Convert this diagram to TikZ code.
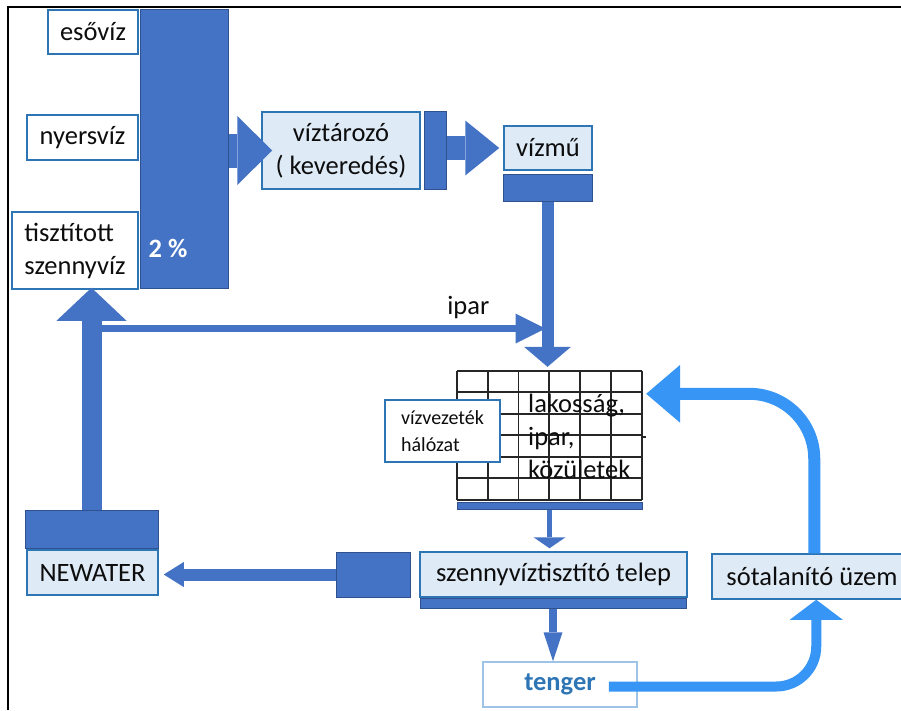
\documentclass[tikz,border=0pt]{standalone}
\usepackage{fontspec}
\setmainfont{Carlito}
\usetikzlibrary{arrows.meta,calc}
\definecolor{darkblue}{RGB}{68,114,196}
\definecolor{darkedge}{RGB}{47,82,143}
\definecolor{boxblue}{RGB}{46,117,182}
\definecolor{paleblue}{RGB}{222,235,247}
\definecolor{seablue}{RGB}{157,195,230}
\definecolor{brightblue}{RGB}{55,150,245}
\definecolor{gridgray}{RGB}{38,38,38}

\begin{document}
\begin{tikzpicture}[x=1pt,y=-1pt,
  font=\fontsize{26.5}{33}\selectfont,
  whitebox/.style={rectangle,draw=boxblue,line width=1.5,fill=white,inner sep=0pt,text=black!95},
  palebox/.style={whitebox,fill=paleblue},
  block/.style={rectangle,draw=darkedge,line width=1,fill=darkblue,inner sep=0pt},
  fatarrow/.style n args={3}{darkblue,line width=#1,-{Triangle[width=#2pt,length=#3pt,line width=0pt]}},
  seaarrow/.style n args={4}{brightblue,line width=#1,rounded corners=#4,-{Triangle[width=#2pt,length=#3pt,line width=0pt]}},
  gridline/.style={gridgray,line width=1.8}]
\path[use as bounding box,fill=white] (0,0) rectangle (901,710);
\clip (0,0) rectangle (901,710);
%frame
\draw[line width=2.5] (8,710)--(8,7)--(901,7);
\path (93,32) node(esoviz)[whitebox,minimum width=90,minimum height=44]{esővíz}
(82.5,137.5) node(nyersviz)[whitebox,minimum width=111,minimum height=45]{nyersvíz}
(75,250.5) node(tisztitott)[whitebox,minimum width=126,minimum height=77,align=left]{tisztított\\szennyvíz}
(184,148.5) node(bar)[block,minimum width=88,minimum height=279]{}
(168,248) node(pct)[text=white,font=\bfseries\fontsize{26.5}{33}\selectfont]{2 \%}
(341,150.5) node(tarozo)[palebox,minimum width=158,minimum height=77,align=center]{víztározó\\( keveredés)}
(435,150) node(tblock)[block,minimum width=22,minimum height=78]{}
(548,148) node(vizmu)[palebox,minimum width=88,minimum height=44]{vízmű}
(547.5,187.5) node(vmblock)[block,minimum width=89,minimum height=27]{}
(549.5,435.5) node(grid)[rectangle,inner sep=0pt,minimum width=185,minimum height=129]{}
(549.5,505.5) node(gridbar)[block,minimum width=185,minimum height=7]{}
(91.5,529) node(nwblock)[block,minimum width=133,minimum height=38]{}
(92.5,572.5) node(newater)[palebox,minimum width=131,minimum height=45]{NEWATER}
(373,574.5) node(leftblock)[block,minimum width=74,minimum height=45]{}
(553.5,574.5) node(szenny)[palebox,minimum width=267,minimum height=45]{szennyvíztisztító telep}
(553,603) node(szbar)[block,minimum width=266,minimum height=10]{}
(560,684.5) node(tenger)[whitebox,draw=seablue,minimum width=154,minimum height=45,text=boxblue,font=\bfseries\fontsize{26.5}{33}\selectfont]{tenger}
(812,576.5) node(sotal)[palebox,minimum width=200,minimum height=45]{sótalanító üzem};
%grid
\foreach \i in {0,...,6}{
  \draw[gridline] ($(grid.north west)+(\i*30.833,0)$)--($(grid.south west)+(\i*30.833,0)$);
  \draw[gridline] ($(grid.north west)+(0,\i*21.5)$)--($(grid.north east)+(0,\i*21.5)$);
}
\draw[gridline] ($(grid.east)+(0,1.5)$)--+(4,0);
\path (442.5,431) node(halozat)[whitebox,minimum width=115,minimum height=62,align=left,font=\fontsize{20}{27}\selectfont]{vízvezeték\\hálózat}
(528,436) node(lakos)[anchor=west,inner sep=0pt,align=left,text=black!95]{lakosság,\\ipar,\\közületek};
%arrows
\coordinate (iparfrom) at ($(nwblock.north)+(0,-181)$);
\draw[fatarrow={7}{30}{30}] (iparfrom)--($(vmblock.south |- iparfrom)+(-2,0)$)
  node[pos=0.83,above=3pt,text=black!95]{ipar};
\draw[fatarrow={34}{69}{35}] (bar.east |- tarozo.west)--($(tarozo.west)+(11,0)$);
\draw[fatarrow={24}{55}{34}] (tblock.east |- vizmu.west)--($(vizmu.west)+(-4,0)$);
\draw[fatarrow={12}{47}{20}] (vmblock.south)--($(vmblock.south |- grid.north)+(0,-4)$);
\draw[fatarrow={20}{70}{33}] (nwblock.north)--($(tisztitott.south -| nwblock.north)+(0,-2)$);
\draw[fatarrow={12}{25}{20}] (leftblock.west)--($(newater.east |- leftblock.west)+(5,0)$);
\draw[fatarrow={5}{32}{11}] (gridbar.south)--($(gridbar.south |- szenny.north)+(0,-3)$);
\draw[fatarrow={8}{19}{29}] (szbar.south)--(szbar.south |- tenger.north);
\draw[seaarrow={10}{53}{20}{40}] ($(tenger.east)+(-29,2)$) -| ($(sotal.south west)+(105,0)$);
\draw[seaarrow={12}{58}{34}{65}] ($(sotal.north west)+(103,0)$) |- ($(grid.north east)+(4,23)$);
\end{tikzpicture}
\end{document}
